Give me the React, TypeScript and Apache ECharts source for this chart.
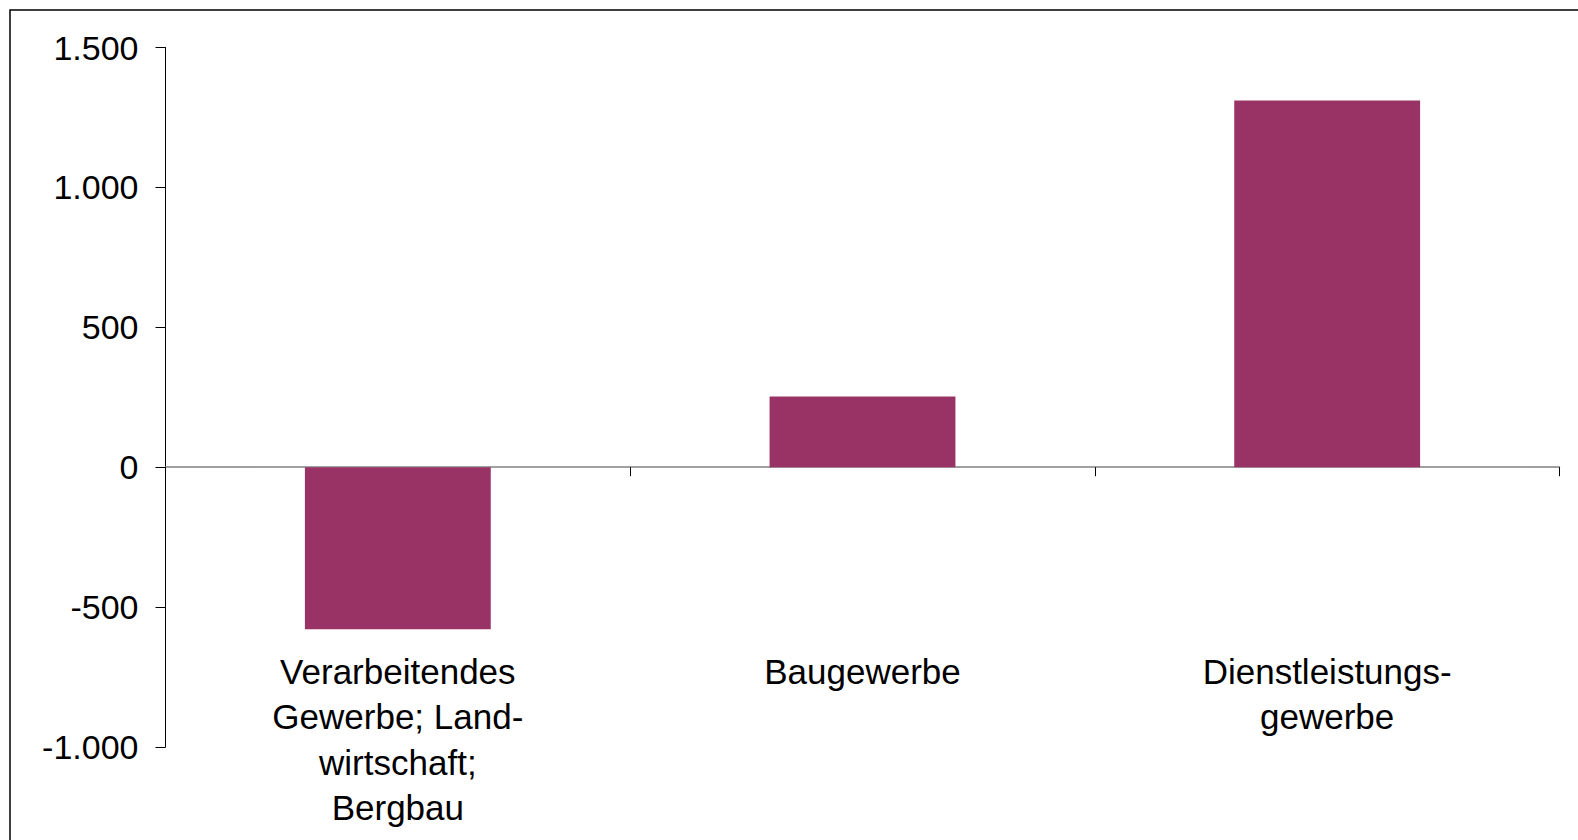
import React, { useEffect, useRef } from "react";
import * as echarts from "echarts";

const categories = [
  "Verarbeitendes\nGewerbe; Land-\nwirtschaft;\nBergbau",
  "Baugewerbe",
  "Dienstleistungs-\ngewerbe",
];
const values = [-579, 253, 1311];
const yMin = -1000;
const yMax = 1500;
const yInterval = 500;

function fmt(v: number): string {
  const neg = v < 0;
  const s = Math.abs(v).toString().replace(/\B(?=(\d{3})+(?!\d))/g, ".");
  return (neg ? "-" : "") + s;
}

export default function App() {
  const ref = useRef<HTMLDivElement>(null);
  useEffect(() => {
    if (!ref.current) return;
    const chart = echarts.init(ref.current, undefined, { renderer: "svg" });
    chart.setOption({
      animation: false,
      backgroundColor: "#ffffff",
      textStyle: { fontFamily: "Liberation Sans, Arial, sans-serif" },
      graphic: [
        {
          type: "rect",
          shape: { x: 10, y: 10, width: 1600, height: 900 },
          style: { fill: "none", stroke: "#000", lineWidth: 1.5 },
          silent: true,
        },
      ],
      grid: {
        left: 165.5,
        right: 18.5,
        top: 47.5,
        bottom: 93,
        containLabel: false,
        outerBoundsMode: "none",
      },
      xAxis: {
        type: "category",
        data: categories,
        axisLine: { onZero: true, lineStyle: { color: "#808080", width: 1.5 } },
        axisTick: { show: true, alignWithLabel: false, length: 9, lineStyle: { color: "#000" } },
        axisLabel: {
          interval: 0,
          margin: -98.5,
          fontSize: 35,
          lineHeight: 45.5,
          color: "#000",
          fontFamily: "Liberation Sans, Arial, sans-serif",
        },
        splitLine: { show: false },
      },
      yAxis: {
        type: "value",
        min: yMin,
        max: yMax,
        interval: yInterval,
        axisLine: { show: true, lineStyle: { color: "#000", width: 1 } },
        axisTick: { show: true, length: 10, lineStyle: { color: "#000" } },
        axisLabel: {
          margin: 27,
          fontSize: 34,
          color: "#000",
          fontFamily: "Liberation Sans, Arial, sans-serif",
          formatter: (v: number) => fmt(v),
        },
        splitLine: { show: false },
      },
      series: [
        {
          type: "bar",
          data: values,
          barWidth: "40%",
          itemStyle: { color: "#993366" },
        },
      ],
    });
    return () => chart.dispose();
  }, []);
  return (
    <div
      ref={ref}
      style={{ position: "absolute", left: 0, top: 0, width: 1578, height: 840 }}
    />
  );
}
